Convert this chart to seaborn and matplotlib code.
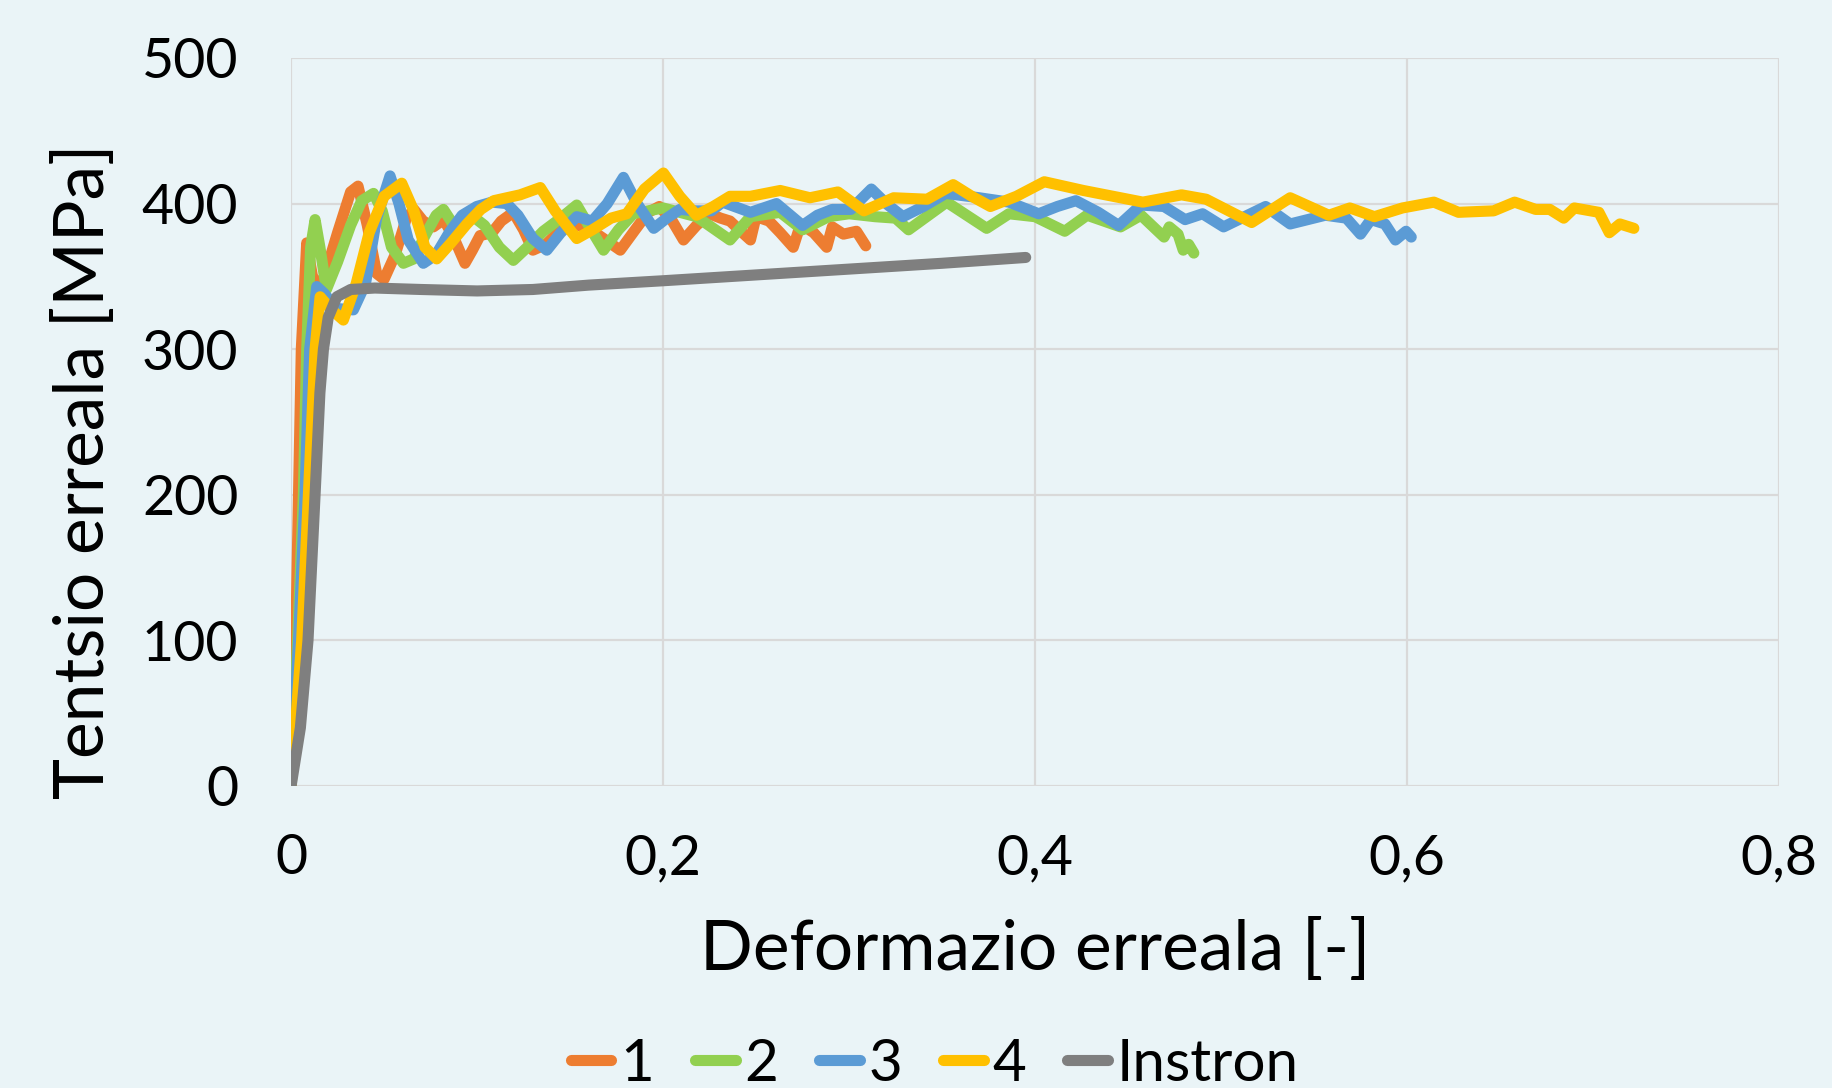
import matplotlib
matplotlib.use("Agg")
import matplotlib.pyplot as plt
import pandas as pd
import seaborn as sns

# Tensile curves (true strain [-], true stress [MPa])
strain_1 = [0, 0.0025, 0.004, 0.0055, 0.0084, 0.0115, 0.016, 0.025, 0.032,
            0.036, 0.041, 0.046, 0.050, 0.056, 0.062, 0.066, 0.071, 0.0765,
            0.082, 0.087, 0.0935, 0.0975, 0.1016, 0.108, 0.113, 0.1195, 0.125,
            0.130, 0.137, 0.145, 0.152, 0.160, 0.168, 0.177, 0.185, 0.192,
            0.198, 0.205, 0.211, 0.218, 0.225, 0.231, 0.236, 0.241, 0.247,
            0.250, 0.257, 0.263, 0.270, 0.274, 0.281, 0.288, 0.291, 0.297,
            0.304, 0.309]
stress_1 = [0, 100, 200, 300, 373, 350, 342, 380, 408,
            412, 385, 352, 348, 365, 390, 396, 388, 384,
            389, 378, 359, 368, 378, 380, 388, 394, 382,
            368, 372, 382, 386, 383, 376, 368, 382, 394,
            398, 388, 375, 385, 393, 390, 388, 382, 375,
            391, 388, 380, 370, 386, 380, 370, 384, 379,
            381, 371]

strain_2 = [0, 0.0035, 0.0066, 0.0084, 0.0105, 0.0129, 0.0155, 0.019, 0.025,
            0.032, 0.038, 0.0443, 0.049, 0.054, 0.0604, 0.066, 0.072, 0.078,
            0.0819, 0.086, 0.089, 0.094, 0.098, 0.104, 0.112, 0.1195, 0.127,
            0.1356, 0.145, 0.1536, 0.160, 0.168, 0.176, 0.184, 0.192, 0.200,
            0.209, 0.218, 0.227, 0.236, 0.247, 0.263, 0.275, 0.289, 0.300,
            0.314, 0.325, 0.332, 0.3525, 0.374, 0.386, 0.400, 0.416, 0.428,
            0.446, 0.457, 0.4694, 0.4722, 0.4769, 0.4797, 0.4826, 0.4854]
stress_2 = [0, 100, 200, 300, 370, 389, 370, 341, 360,
            385, 402, 407, 395, 370, 359, 362, 378, 392,
            396, 388, 380, 388, 391, 385, 370, 361, 370,
            381, 390, 399, 385, 368, 382, 393, 395, 397,
            394, 391, 383, 375, 391, 394, 382, 391, 393,
            391, 390, 382, 401, 383, 393, 391, 381, 392,
            384, 392, 377, 384, 379, 368, 372, 366]

strain_3 = [0, 0.004, 0.0075, 0.010, 0.0138, 0.018, 0.024, 0.0335, 0.040,
            0.046, 0.0532, 0.058, 0.063, 0.0711, 0.078, 0.085, 0.092, 0.0998,
            0.108, 0.116, 0.122, 0.130, 0.1375, 0.145, 0.1536, 0.162, 0.170,
            0.1787, 0.186, 0.195, 0.202, 0.209, 0.218, 0.226, 0.232, 0.247,
            0.261, 0.275, 0.283, 0.291, 0.301, 0.312, 0.320, 0.329, 0.340,
            0.352, 0.370, 0.386, 0.402, 0.412, 0.422, 0.434, 0.445, 0.457,
            0.4694, 0.4807, 0.4901, 0.5014, 0.524, 0.5372, 0.5561, 0.5674,
            0.575, 0.5806, 0.5882, 0.5938, 0.5995, 0.6023]
stress_3 = [0, 100, 200, 300, 343, 338, 328, 327, 345,
            390, 419, 400, 375, 359, 365, 380, 392, 398,
            401, 400, 392, 376, 368, 380, 391, 388, 400,
            418, 400, 383, 390, 396, 395, 395, 401, 394,
            400, 385, 392, 396, 396, 410, 400, 391, 398,
            407, 404, 401, 393, 398, 402, 394, 385, 399,
            398, 389, 393, 384, 398, 386, 392, 390,
            379, 389, 386, 375, 381, 377]

strain_4 = [0, 0.0057, 0.0093, 0.0129, 0.0156, 0.021, 0.0281, 0.035, 0.042,
            0.050, 0.0595, 0.066, 0.072, 0.0783, 0.086, 0.0945, 0.102, 0.109,
            0.116, 0.1231, 0.134, 0.142, 0.1536, 0.162, 0.172, 0.1805, 0.190,
            0.2002, 0.209, 0.218, 0.227, 0.236, 0.247, 0.263, 0.279, 0.294,
            0.308, 0.324, 0.342, 0.356, 0.366, 0.376, 0.390, 0.405, 0.426,
            0.442, 0.458, 0.4788, 0.492, 0.5165, 0.5372, 0.558, 0.5693,
            0.5825, 0.5976, 0.6145, 0.6277, 0.6466, 0.6579, 0.6692, 0.6768,
            0.6843, 0.690, 0.7032, 0.7088, 0.7145, 0.722]
stress_4 = [0, 100, 200, 300, 336, 328, 320, 345, 380,
            405, 414, 395, 370, 362, 373, 386, 396, 402,
            404, 406, 411, 395, 376, 382, 390, 393, 410,
            421, 405, 392, 398, 405, 405, 409, 404, 408,
            395, 404, 403, 413, 405, 398, 405, 415, 409,
            405, 401, 406, 403, 387, 404, 392, 397,
            391, 397, 401, 394, 395, 401, 396, 396,
            390, 397, 394, 380, 386, 383]

strain_instron = [0, 0.005, 0.0091, 0.0129, 0.0155, 0.0174, 0.020, 0.0246,
                  0.032, 0.045, 0.07, 0.10, 0.13, 0.16, 0.20, 0.25, 0.30,
                  0.35, 0.395]
stress_instron = [0, 40, 100, 200, 270, 300, 322, 336,
                  341, 342, 341, 340, 341, 344, 347, 351, 355,
                  359, 363]

series_names = ["1", "2", "3", "4", "Instron"]
series_colors = ["#ED7D31", "#92D050", "#5B9BD5", "#FFC000", "#7F7F7F"]
x_ticks = [0, 0.2, 0.4, 0.6, 0.8]
x_tick_labels = ["0", "0,2", "0,4", "0,6", "0,8"]
y_ticks = [0, 100, 200, 300, 400, 500]

curves = [(strain_1, stress_1), (strain_2, stress_2), (strain_3, stress_3),
          (strain_4, stress_4), (strain_instron, stress_instron)]
frames = []
for name, (xs, ys) in zip(series_names, curves):
    frames.append(pd.DataFrame({"strain": xs, "stress": ys, "serie": name}))
df = pd.concat(frames, ignore_index=True)

bg = "#EAF4F7"
sns.set_theme(style="whitegrid")
plt.rcParams['font.family'] = ['Lato', 'DejaVu Sans']

fig = plt.figure(figsize=(18.33, 10.88), dpi=100, facecolor=bg)
ax = fig.add_axes([0.1588, 0.2776, 0.8117, 0.6691])
ax.set_facecolor(bg)

sns.lineplot(data=df, x="strain", y="stress", hue="serie",
             hue_order=series_names, palette=series_colors,
             sort=False, estimator=None, linewidth=8,
             solid_capstyle="round", solid_joinstyle="round", ax=ax)

ax.set_xlim(0, 0.8)
ax.set_ylim(0, 500)
ax.set_xticks(x_ticks)
ax.set_xticklabels(x_tick_labels)
ax.set_yticks(y_ticks)
ax.grid(True, color="#D9D9D9", linewidth=1.6)
for sp in ax.spines.values():
    sp.set_visible(False)
ax.tick_params(axis="x", length=0, pad=34, labelsize=40, labelcolor="black")
ax.tick_params(axis="y", length=0, pad=38, labelsize=40, labelcolor="black")

ax.set_xlabel("Deformazio erreala [-]", fontsize=50, color="black", labelpad=24)
ax.set_ylabel("Tentsio erreala [MPa]", fontsize=50, color="black")
ax.yaxis.set_label_coords(-0.118, 0.432)

handles, labels = ax.get_legend_handles_labels()
ax.get_legend().remove()
for h in handles:
    h.set_linewidth(8)
    h.set_solid_capstyle("round")
fig.legend(handles, labels, loc="center", bbox_to_anchor=(0.51, 0.022),
           ncol=5, frameon=False, fontsize=42, handlelength=0.7,
           handletextpad=0.15, columnspacing=0.7, labelcolor="black")

fig.savefig("out.png", dpi=100, facecolor=bg)
